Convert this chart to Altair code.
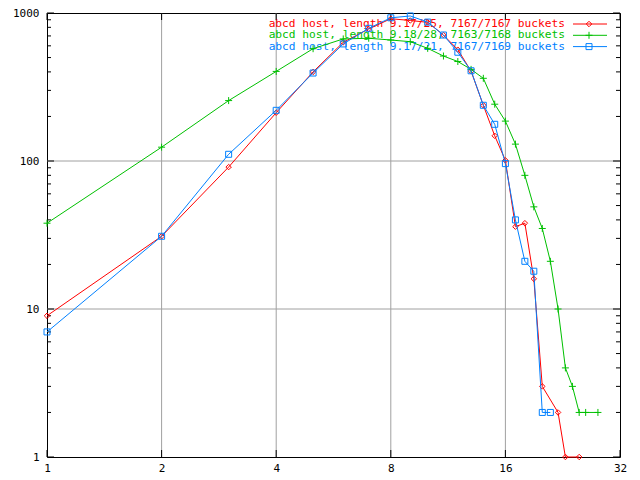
import altair as alt
import pandas as pd

series_names = [
    "abcd host, length 9.17/25, 7167/7167 buckets",
    "abcd host, length 9.18/28, 7163/7168 buckets",
    "abcd host, length 9.17/21, 7167/7169 buckets",
]
colors = ["#ff0000", "#00c000", "#0080ff"]
shapes = ["M0,-1L1,0L0,1L-1,0Z", "M-1,0L1,0M0,-1L0,1", "M-1,-1L1,-1L1,1L-1,1Z"]
shape_sizes = [30, 49, 36]

red_x = [1, 2, 3, 4, 5, 6, 7, 8, 9, 10, 11, 12, 13, 14, 15, 16, 17, 18, 19, 20, 22, 23, 25]
red_y = [9, 31, 91, 212, 400, 634, 780, 915, 890, 865, 710, 565, 405, 238, 148, 101, 36, 38, 16, 3, 2, 1, 1]

green_x = [1, 2, 3, 4, 5, 6, 7, 8, 9, 10, 11, 12, 13, 14, 15, 16, 17, 18, 19, 20, 21, 22, 23, 24, 25, 26, 28]
green_y = [38, 124, 256, 403, 574, 668, 675, 657, 640, 577, 512, 470, 416, 362, 242, 186, 130, 80, 49, 35, 21, 10, 4, 3, 2, 2, 2]

blue_x = [1, 2, 3, 4, 5, 6, 7, 8, 9, 10, 11, 12, 13, 14, 15, 16, 17, 18, 19, 20, 21]
blue_y = [7, 31, 111, 220, 393, 618, 788, 928, 955, 868, 710, 543, 407, 238, 177, 96, 40, 21, 18, 2, 2]

x_labels = [1, 2, 4, 8, 16, 32]
y_labels = [1, 10, 100, 1000]
x_grid = [2, 4, 8, 16]
y_grid = [10, 100]
y_minor = [2, 3, 4, 5, 6, 7, 8, 9, 20, 30, 40, 50, 60, 70, 80, 90, 200, 300, 400, 500, 600, 700, 800, 900]

W, H = 573, 444
FONT = "DejaVu Sans Mono"

xscale = alt.Scale(type="log", base=2, domain=[1, 32], nice=False)
yscale = alt.Scale(type="log", domain=[1, 1000], nice=False)
xaxis = alt.Axis(values=x_labels, format="d", title=None, labelFlush=False, labelOverlap=False,
                 grid=False, ticks=False, domain=False, labelPadding=5,
                 labelFont=FONT, labelFontSize=11, labelColor="black")
yaxis = alt.Axis(values=y_labels, format="d", title=None, labelOverlap=False,
                 grid=False, ticks=False, domain=False, labelPadding=8,
                 labelFont=FONT, labelFontSize=11, labelColor="black")


def X(field):
    return alt.X(f"{field}:Q", scale=xscale, axis=xaxis)


def Y(field):
    return alt.Y(f"{field}:Q", scale=yscale, axis=yaxis)


layers = []

# grid
layers.append(alt.Chart(pd.DataFrame({"v": x_grid})).mark_rule(color="#a0a0a0", strokeWidth=1).encode(x=X("v")))
layers.append(alt.Chart(pd.DataFrame({"v": y_grid})).mark_rule(color="#a0a0a0", strokeWidth=1).encode(y=Y("v")))

# ticks (inward)
ymin_df = pd.DataFrame({"v": y_minor})
ymaj_df = pd.DataFrame({"v": y_labels})
xmaj_df = pd.DataFrame({"v": x_labels})
layers.append(alt.Chart(ymin_df).mark_rule(color="black").encode(y=Y("v"), x=alt.value(0), x2=alt.value(4)))
layers.append(alt.Chart(ymin_df).mark_rule(color="black").encode(y=Y("v"), x=alt.value(W - 4), x2=alt.value(W)))
layers.append(alt.Chart(ymaj_df).mark_rule(color="black").encode(y=Y("v"), x=alt.value(0), x2=alt.value(7)))
layers.append(alt.Chart(ymaj_df).mark_rule(color="black").encode(y=Y("v"), x=alt.value(W - 7), x2=alt.value(W)))
layers.append(alt.Chart(xmaj_df).mark_rule(color="black").encode(x=X("v"), y=alt.value(H - 7), y2=alt.value(H)))
layers.append(alt.Chart(xmaj_df).mark_rule(color="black").encode(x=X("v"), y=alt.value(0), y2=alt.value(7)))

# legend (drawn under data lines)
for i, (name, c, shp, sz) in enumerate(zip(series_names, colors, shapes, shape_sizes)):
    ly = 11 + 11.3 * i
    ldf = pd.DataFrame({"label": [name]})
    layers.append(alt.Chart(ldf).mark_text(align="right", baseline="middle", font=FONT, fontSize=11.2,
                                           color=c).encode(text="label:N", x=alt.value(518), y=alt.value(ly)))
    layers.append(alt.Chart(ldf).mark_rule(color=c, strokeWidth=1).encode(
        x=alt.value(526), x2=alt.value(560), y=alt.value(ly)))
    layers.append(alt.Chart(ldf).mark_point(shape=shp, size=sz, filled=False, color=c, strokeWidth=1,
                                            opacity=1).encode(x=alt.value(542), y=alt.value(ly)))

# data
for name, c, shp, sz, xs, ys in zip(series_names, colors, shapes, shape_sizes,
                                     [red_x, green_x, blue_x], [red_y, green_y, blue_y]):
    d = pd.DataFrame({"x": xs, "y": ys})
    layers.append(alt.Chart(d).mark_line(color=c, strokeWidth=1).encode(x=X("x"), y=Y("y"), order="x:Q"))
    layers.append(alt.Chart(d).mark_point(shape=shp, size=sz, filled=False, color=c, strokeWidth=1,
                                          opacity=1).encode(x=X("x"), y=Y("y")))

chart = alt.layer(*layers).properties(
    width=W, height=H,
    autosize=alt.AutoSizeParams(type="none"),
    padding={"left": 39, "top": 5, "right": 12, "bottom": 16},
    background="white",
).configure_view(stroke="black", strokeWidth=1)

chart.save("out.html", embed_options={"renderer": "svg", "actions": False})
